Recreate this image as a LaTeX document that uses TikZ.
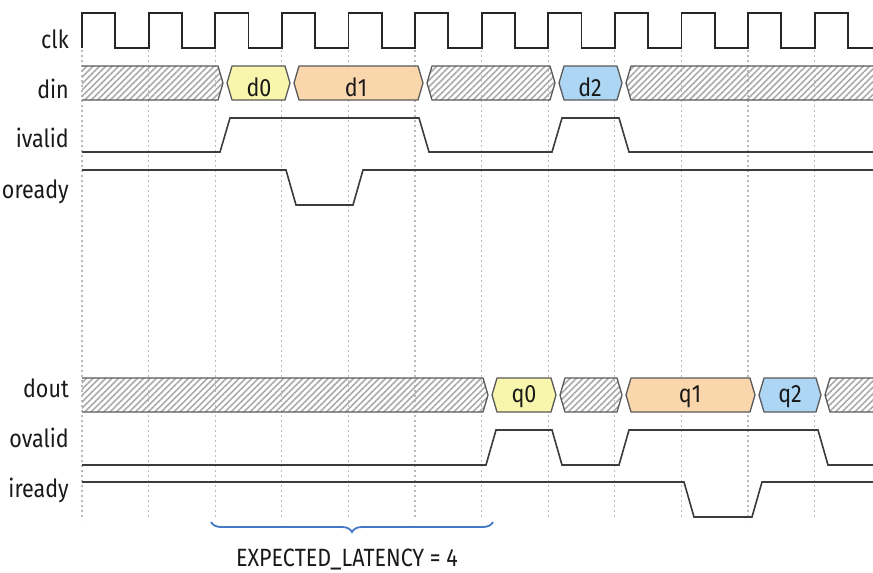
\documentclass[tikz,border=0pt]{standalone}
\usepackage{fontspec}
\setmainfont{Fira Sans}[FakeStretch=0.86]
\usepackage{tikz}
\usetikzlibrary{patterns.meta, decorations.pathreplacing, calc}
\definecolor{waveGray}{RGB}{60, 60, 60}
\definecolor{gridGray}{RGB}{185, 185, 185}
\definecolor{hatchGray}{RGB}{170, 170, 170}
\definecolor{busYellow}{RGB}{248, 246, 172}
\definecolor{busOrange}{RGB}{250, 214, 172}
\definecolor{busBlue}{RGB}{172, 214, 244}
\definecolor{braceBlue}{RGB}{70, 120, 200}
\tikzset{
  sigLabel/.style={
    anchor=base east,
    inner sep=0pt,
    font=\fontsize{25}{27}\selectfont,
    text=black!90
  },
  busText/.style={
    anchor=base,
    inner sep=0pt,
    font=\fontsize{25}{27}\selectfont,
    text=black!90
  },
  clkWave/.style={
    draw=black!85,
    line width=1.8pt
  },
  sigWave/.style={
    draw=waveGray,
    line width=1.6pt
  },
  gridLine/.style={
    draw=gridGray,
    line width=1.2pt,
    dash pattern=on 2pt off 3pt
  },
  busPart/.style={
    draw=black!65,
    line width=1.3pt,
    line join=round
  },
  busX/.style={
    busPart,
    pattern={Lines[angle=45, distance=4.5pt, line width=1.6pt]},
    pattern color=hatchGray
  },
  busA/.style={busPart, fill=busYellow},
  busB/.style={busPart, fill=busOrange},
  busC/.style={busPart, fill=busBlue},
  latencyBrace/.style={
    draw=braceBlue,
    line width=1.8pt,
    decorate,
    decoration={brace, mirror, amplitude=10pt}
  }
}
% #1 style, #2 left, #3 right, #4 top, #5 bottom
\newcommand{\busPiece}[5]{%
  \draw[#1] (#2,{(#4+#5)/2}) -- (#2+5,#4) -- (#3-5,#4) -- (#3,{(#4+#5)/2})
    -- (#3-5,#5) -- (#2+5,#5) -- cycle;}

\begin{document}
\begin{tikzpicture}[x=1pt, y=-1pt]
  \useasboundingbox (0,0) rectangle (873,573);
  \clip (0,0) rectangle (873,573);

  % grid at rising edges
  \foreach \k in {0,...,11}
    \draw[gridLine] (82+66.6*\k,50) -- (82+66.6*\k,520);

  \node[sigLabel] (lblClk) at (69,48) {clk};
  \node[sigLabel] (lblDin) at (69,98) {din};
  \node[sigLabel] (lblIvalid) at (69,147) {ivalid};
  \node[sigLabel] (lblOready) at (69,198) {oready};
  \node[sigLabel] (lblDout) at (69,397) {dout};
  \node[sigLabel] (lblOvalid) at (69,447) {ovalid};
  \node[sigLabel] (lblIready) at (69,497) {iready};

  \draw[clkWave] (82,48) \foreach \k in {1,...,12} {
    -- ++(0,-35) -- ++(33.3,0) -- ++(0,35) -- ++(33.3,0)};

  \begin{scope}
    \clip (82,0) rectangle (873,573);
    \busPiece{busX}{76}{223}{66}{100}
    \busPiece{busA}{227}{290}{66}{100}
    \busPiece{busB}{294}{423}{66}{100}
    \busPiece{busX}{427}{555}{66}{100}
    \busPiece{busC}{559}{622}{66}{100}
    \busPiece{busX}{626}{885}{66}{100}

    \busPiece{busX}{76}{488}{378}{412}
    \busPiece{busA}{492}{556}{378}{412}
    \busPiece{busX}{560}{622}{378}{412}
    \busPiece{busB}{626}{755}{378}{412}
    \busPiece{busC}{759}{821}{378}{412}
    \busPiece{busX}{825}{885}{378}{412}
  \end{scope}

  \node[busText] (txtD0) at (259,96) {d0};
  \node[busText] (txtD1) at (356,96) {d1};
  \node[busText] (txtD2) at (590,96) {d2};
  \node[busText] (txtQ0) at (524,402) {q0};
  \node[busText] (txtQ1) at (690,402) {q1};
  \node[busText] (txtQ2) at (790,402) {q2};

  \draw[sigWave] (82,152) -- (220,152) -- (230,118) -- (419,118) -- (429,152)
    -- (552,152) -- (562,118) -- (619,118) -- (629,152) -- (873,152);
  \draw[sigWave] (82,170) -- (286,170) -- (296,205) -- (353,205) -- (363,170)
    -- (873,170);
  \draw[sigWave] (82,465) -- (486,465) -- (496,430) -- (552,430) -- (562,465)
    -- (619,465) -- (629,430) -- (818,430) -- (828,465) -- (873,465);
  \draw[sigWave] (82,482) -- (684,482) -- (694,517) -- (752,517) -- (762,482)
    -- (873,482);

  \coordinate (latL) at (211,522);
  \coordinate (latR) at (493,522);
  \draw[latencyBrace] (latL) -- (latR);
  \node[busText] (latText) at (347,566) {EXPECTED\_LATENCY = 4};
\end{tikzpicture}
\end{document}
